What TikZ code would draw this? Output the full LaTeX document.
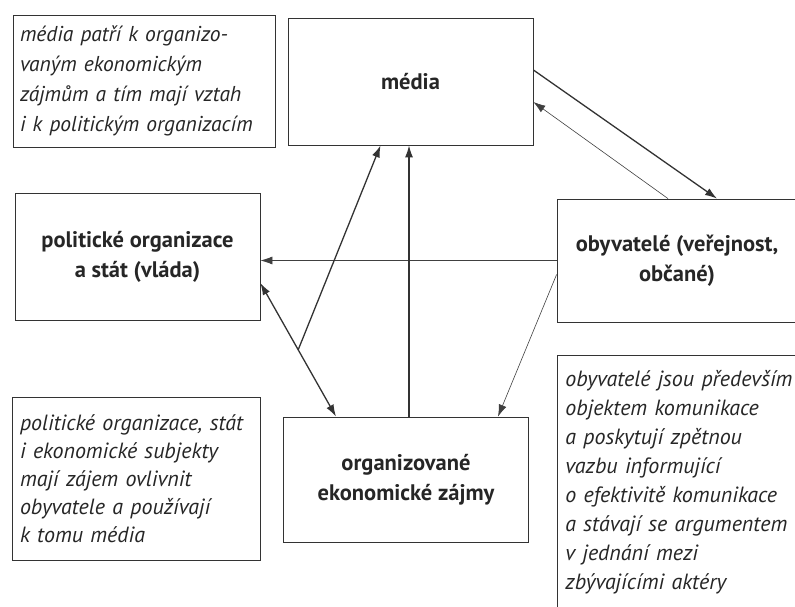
\documentclass[tikz,border=0pt]{standalone}
\usepackage{fontspec}
\setmainfont{PT Sans}
\usetikzlibrary{arrows.meta,calc}

\begin{document}
\begin{tikzpicture}[x=1pt,y=-1pt,>={Latex[length=12pt,width=8pt]},
    box/.style={draw=black!80,line width=0.8pt,align=center,text=black!85,
      font=\fontsize{22.5}{30}\selectfont\bfseries},
    notebox/.style={draw=black!80,line width=0.8pt,align=left,text=black!85,
      inner sep=0pt,font=\fontsize{22}{28}\selectfont\itshape},
    thickarr/.style={line width=1.3pt,draw=black!80},
    thinarr/.style={line width=0.6pt,draw=black!75}]
    % Frame
    \useasboundingbox (0,0) rectangle (795,607);
    \clip (0,0) rectangle (795,607);

    % Actors
    \node[box,minimum width=245pt,minimum height=127pt] (media) at (410.5,81.5) {média};
    \node[box,minimum width=245pt,minimum height=127pt] (polit) at (137.5,256.5)
        {politické organizace\\a stát (vláda)};
    \node[box,minimum width=240pt,minimum height=123pt] (obyv) at (677,260.5)
        {obyvatelé (veřejnost,\\občané)};
    \node[box,minimum width=245pt,minimum height=125pt] (ekon) at (406,479.5)
        {organizované\\ekonomické zájmy};

    % Notes
    \node[notebox,minimum width=262pt,minimum height=132pt,text width=248pt,
        font=\fontsize{21.5}{30}\selectfont\itshape] (notemedia) at (144,81)
        {média patří k organizo-\\vaným ekonomickým\\zájmům a tím mají vztah\\i k politickým organizacím};
    \node[notebox,minimum width=248pt,minimum height=163pt,text width=232pt] (notepolit) at (136,478.5)
        {politické organizace, stát\\i ekonomické subjekty\\mají zájem ovlivnit\\obyvatele a používají\\k tomu média};
    \coordinate (corner) at (557,355);
    \node[notebox,draw=none,anchor=north west,text width=235pt,
        font=\fontsize{22}{29}\selectfont\itshape] (noteobyv) at ($(corner)+(8,15)$)
        {obyvatelé jsou především\\objektem komunikace\\a poskytují zpětnou\\vazbu informující\\o efektivitě komunikace\\a stávají se argumentem\\v jednání mezi\\zbývajícími aktéry};
    \draw[line width=0.8pt,black!80] (corner) ++(0,300) -- (corner) -- ++(300,0);

    % Connectors
    \draw[thickarr,->] ($(media.east)+(0,-11.5)$) -- ($(obyv.north)+(40,0)$);
    \draw[thinarr,->] ($(obyv.north)+(-9,0)$) -- ($(media.east)+(0,20.5)$);
    \draw[thinarr,->] (obyv.west) -- (obyv.west -| polit.east);
    \draw[thinarr,->] ($(obyv.west)+(0,14)$) -- ($(ekon.north)+(92,0)$);
    \coordinate (up) at ($(ekon.north)+(3,0)$);
    \draw[thickarr,->] (up) -- (up |- media.south);
    \coordinate (pa) at ($(polit.east)+(0,26.5)$);
    \coordinate (pb) at ($(ekon.north)+(-70,0)$);
    \draw[thickarr,<->] (pa) -- (pb);
    \coordinate (fork) at ($(pa)!0.5!(pb)$);
    \draw[thickarr,->] (fork) -- ($(media.south)+(-30,0)$);
\end{tikzpicture}
\end{document}
